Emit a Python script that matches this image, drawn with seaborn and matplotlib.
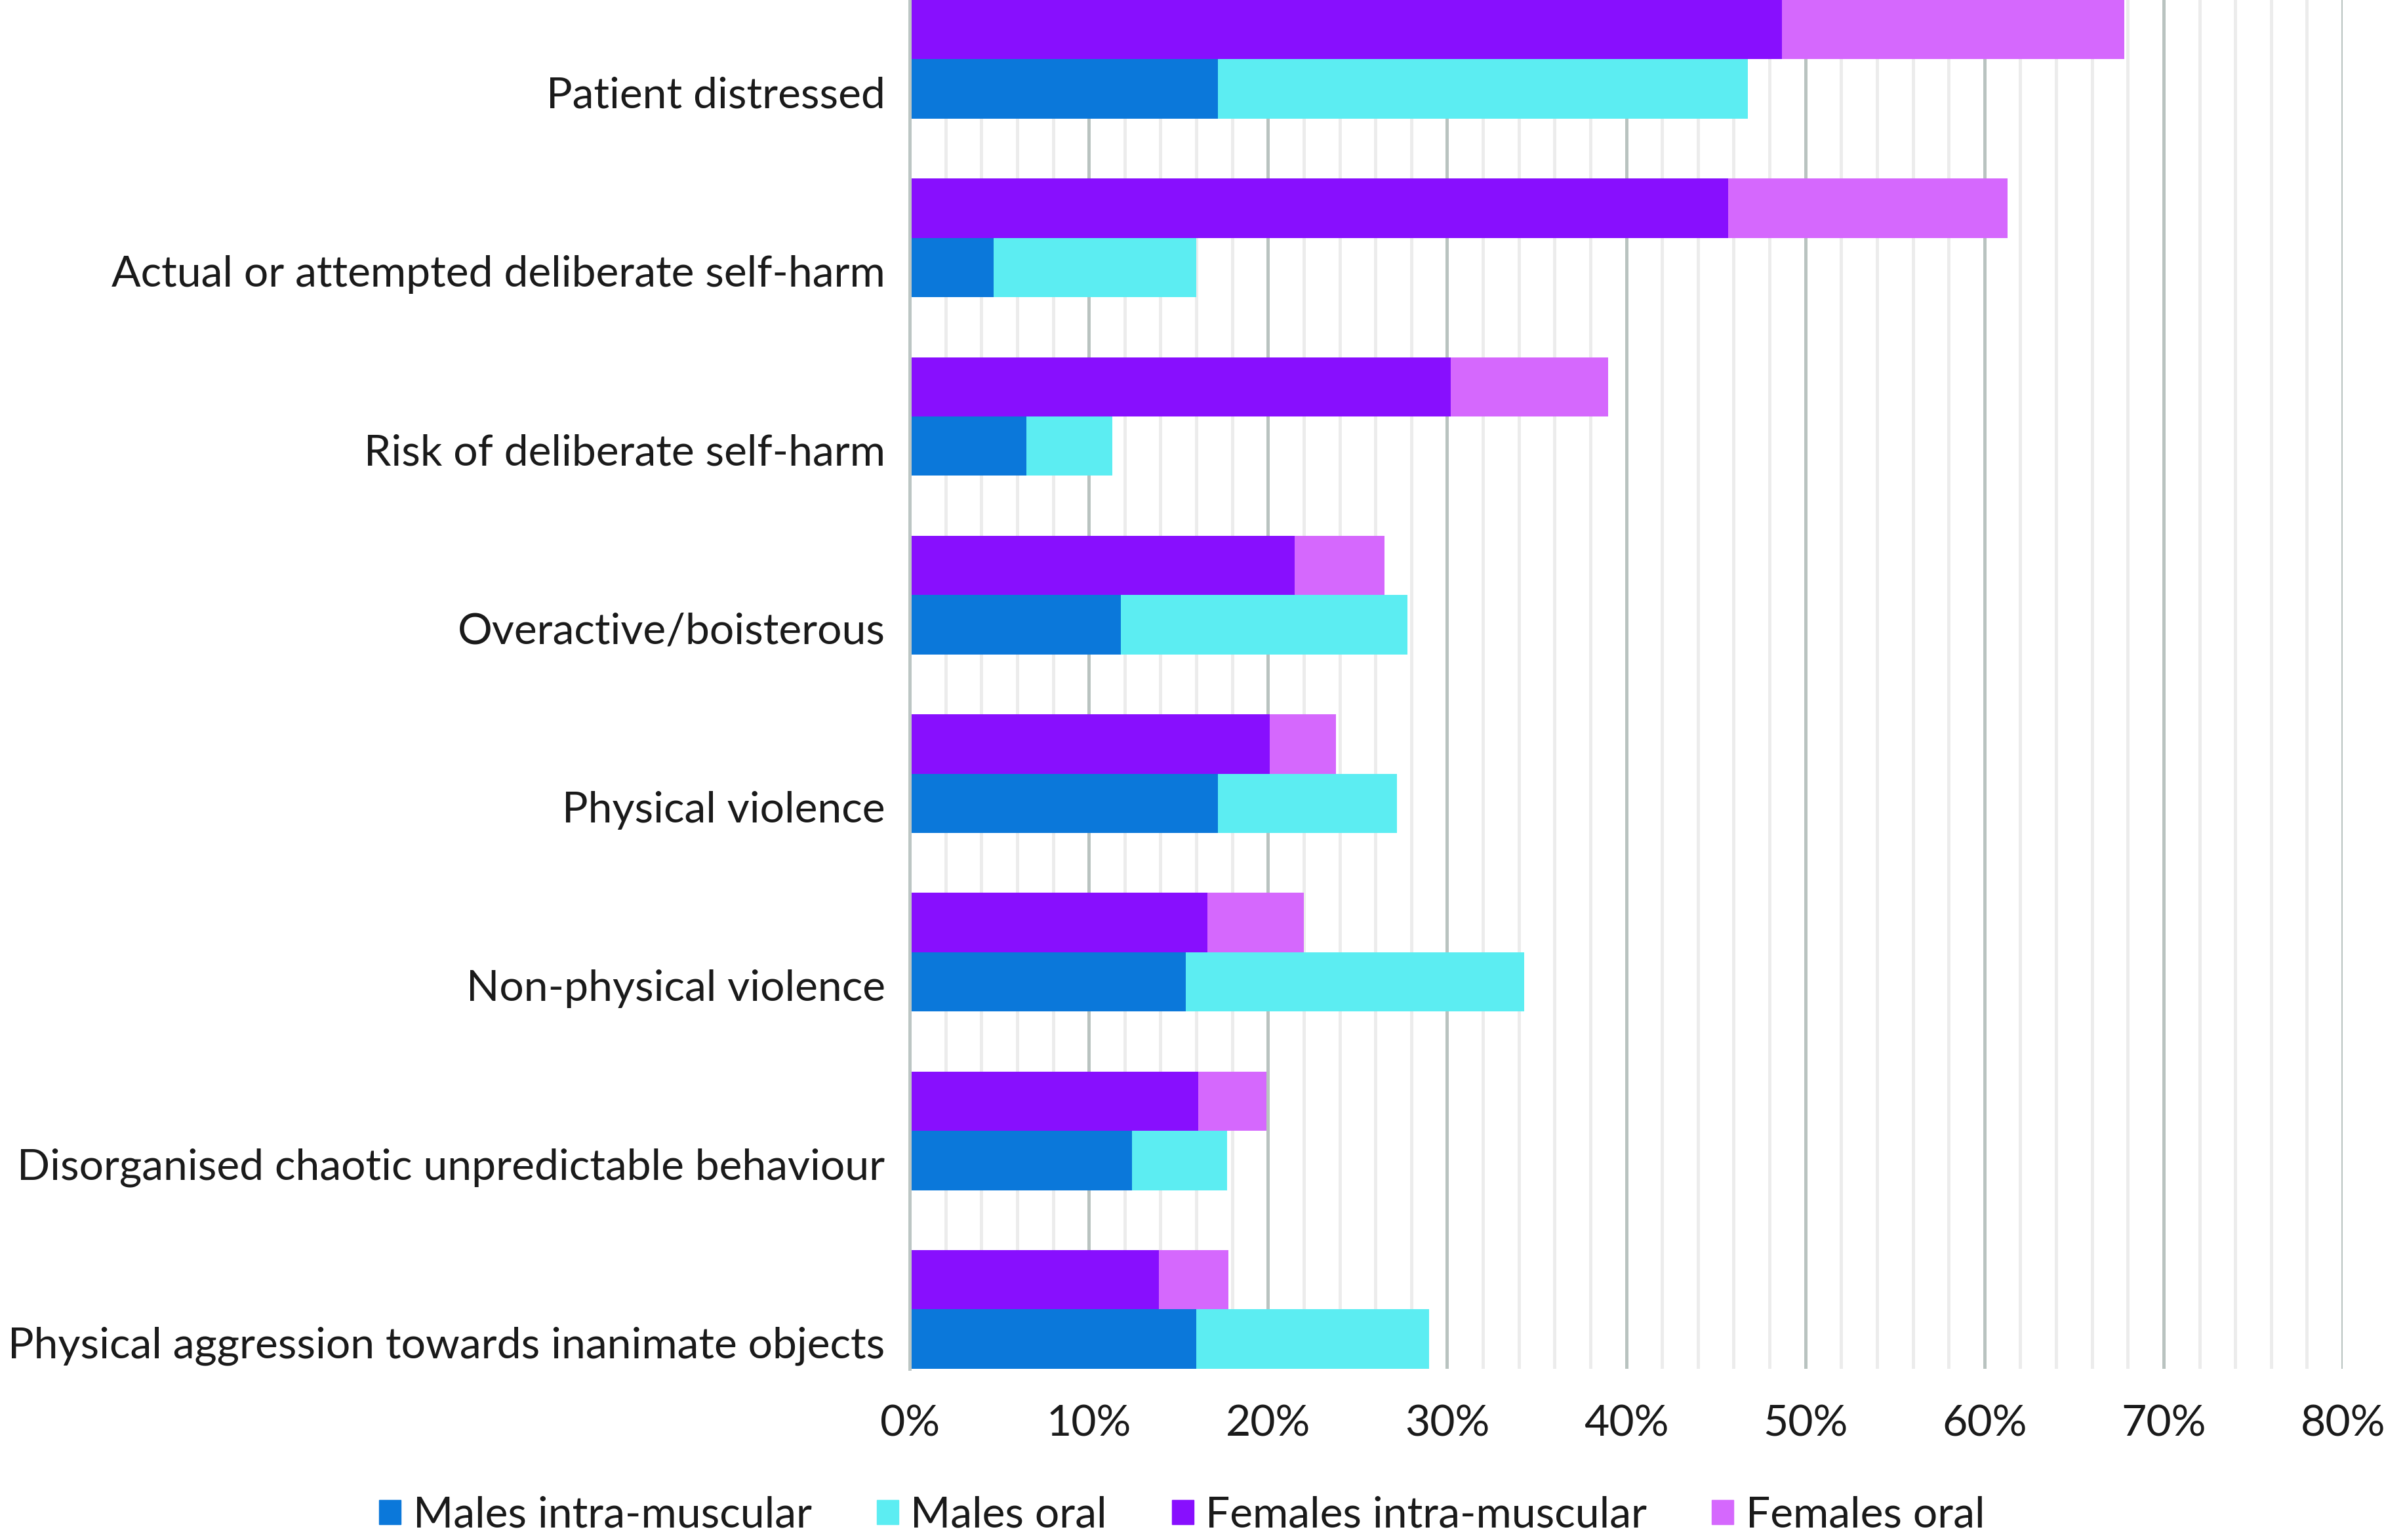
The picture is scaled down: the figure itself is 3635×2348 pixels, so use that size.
import numpy as np
import pandas as pd
import matplotlib
matplotlib.use('Agg')
import matplotlib.pyplot as plt
from matplotlib.patches import Patch
import seaborn as sns

categories = [
    'Patient distressed',
    'Actual or attempted deliberate self-harm',
    'Risk of deliberate self-harm',
    'Overactive/boisterous',
    'Physical violence',
    'Non-physical violence',
    'Disorganised chaotic unpredictable behaviour',
    'Physical aggression towards inanimate objects',
]
males_im = [17.2, 4.7, 6.5, 11.8, 17.2, 15.4, 12.4, 16.0]
males_oral = [29.6, 11.3, 4.8, 16.0, 10.0, 18.9, 5.3, 13.0]
females_im = [48.7, 45.7, 30.2, 21.5, 20.1, 16.6, 16.1, 13.9]
females_oral = [19.1, 15.6, 8.8, 5.0, 3.7, 5.4, 3.8, 3.9]

series_labels = ['Males intra-muscular', 'Males oral', 'Females intra-muscular', 'Females oral']
x_ticks = [0, 10, 20, 30, 40, 50, 60, 70, 80]

c_m_im = '#0b78da'
c_m_oral = '#5cedf2'
c_f_im = '#880ffe'
c_f_oral = '#d568fd'

# long table: one row per category and sex
df = pd.DataFrame({
    'category': categories * 2,
    'sex': ['Females'] * len(categories) + ['Males'] * len(categories),
    'im': females_im + males_im,
    'oral': females_oral + males_oral,
})
df['total'] = df['im'] + df['oral']

sns.set_theme(style='white')
plt.rcParams['font.family'] = ['Lato', 'DejaVu Sans']

fig = plt.figure(figsize=(36.35, 23.48), dpi=100)
ax = fig.add_axes([0.3816, 0.1112, 0.6011, 0.8888])

width = 0.664
# stacked look: totals first (oral colour), intra-muscular drawn over them
sns.barplot(data=df, y='category', x='total', hue='sex', hue_order=['Females', 'Males'],
            palette=[c_f_oral, c_m_oral], orient='h', dodge=True, width=width,
            saturation=1, errorbar=None, linewidth=0, legend=False, ax=ax)
sns.barplot(data=df, y='category', x='im', hue='sex', hue_order=['Females', 'Males'],
            palette=[c_f_im, c_m_im], orient='h', dodge=True, width=width,
            saturation=1, errorbar=None, linewidth=0, legend=False, ax=ax)

n = len(categories)
ax.set_ylim(n - 1 + width / 2, -width / 2)
# labels sit level with the male bar
ax.set_yticks(np.arange(n) + width / 4 + 0.018, labels=categories)
ax.set_xlim(0, 80)
ax.set_xticks(x_ticks, labels=[f'{t}%' for t in x_ticks])
ax.set_xticks(np.arange(0, 81, 2), minor=True)
ax.set_xlabel('')
ax.set_ylabel('')

ax.set_axisbelow(True)
ax.grid(False)
ax.grid(which='minor', axis='x', color='#ececec', lw=3.6)
ax.grid(which='major', axis='x', color='#b9c3c0', lw=3.6)

for side in ['top', 'bottom', 'right']:
    ax.spines[side].set_visible(False)
ax.spines['left'].set_color('#bcc6c4')
ax.spines['left'].set_linewidth(3.6)

ax.tick_params(axis='both', which='both', length=0, labelsize=47.5, colors='#1a1a1a')
ax.tick_params(axis='y', pad=27)
ax.tick_params(axis='x', pad=39)

handles = [Patch(color=c) for c in [c_m_im, c_m_oral, c_f_im, c_f_oral]]
fig.legend(handles, series_labels, loc='center', bbox_to_anchor=(0.4958, 0.0160),
           ncol=4, frameon=False, fontsize=47.5, handlelength=0.5, handleheight=0.5,
           handletextpad=0.28, columnspacing=1.5, labelcolor='#1a1a1a')

fig.savefig('out.png', dpi=100)
